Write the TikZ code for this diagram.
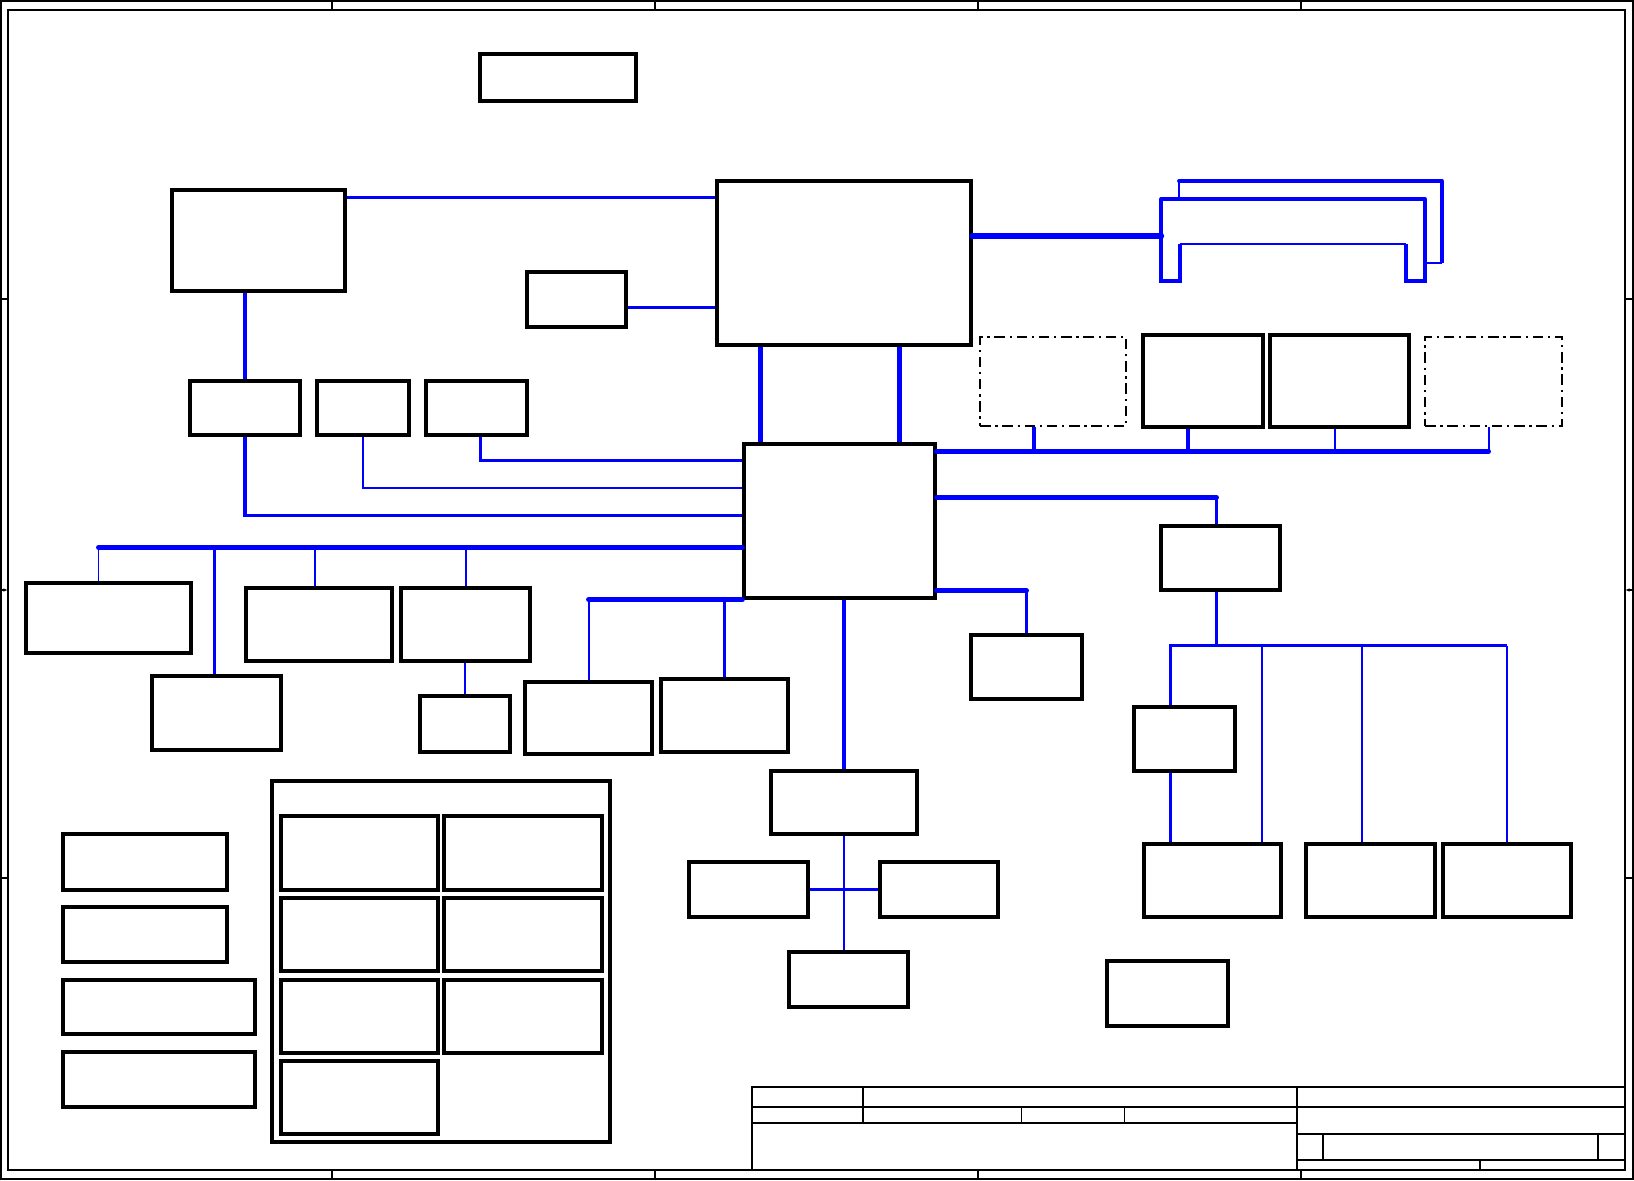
\documentclass[tikz,border=0pt]{standalone}
\usepackage{tikz}
\usetikzlibrary{arrows.meta,positioning,calc,fit}
\definecolor{busblue}{RGB}{0,0,255}

\begin{document}
\begin{tikzpicture}[x=0.3mm,y=-0.3mm,
  blk/.style={draw,line width=2.7pt,inner sep=0pt},
  opt/.style={draw,line width=1pt,inner sep=0pt,dash pattern=on 9pt off 4pt on 2pt off 4pt},
  frm/.style={line width=0.9pt},
  busS/.style={busblue,line width=1.7pt},
  busM/.style={busblue,line width=2.6pt},
  busL/.style={busblue,line width=4.2pt,line cap=round},
  busXL/.style={busblue,line width=5.5pt,line cap=round}]
  \useasboundingbox (0,0) rectangle (1634,1180);
  % sheet frame and zones
  \draw[frm] (1,1) rectangle (1633,1179);
  \draw[frm] (8,10) rectangle (1625,1170);
  \foreach \x in {332,655,978,1301} {\draw[frm] (\x,1) -- (\x,10); \draw[frm] (\x,1170) -- (\x,1179);}
  \foreach \y in {299,878} {\draw[frm] (1,\y) -- (8,\y); \draw[frm] (1625,\y) -- (1633,\y);}
  \draw[frm,-{Latex[length=4pt,width=3pt]}] (1,590) -- (8,590);
  \draw[frm,-{Latex[length=4pt,width=3pt]}] (1633,590) -- (1625,590);
  % title block
  \draw[frm] (752,1170) |- (1625,1087);
  \draw[frm] (752,1107) -- (1625,1107) (752,1123) -- (1297,1123);
  \draw[frm] (1297,1087) -- (1297,1170) (863,1087) -- (863,1123);
  \draw[thin] (1021,1107) -- (1021,1123) (1124,1107) -- (1124,1123);
  \draw[frm] (1297,1134) -- (1625,1134) (1297,1160) -- (1625,1160);
  \draw[frm] (1323,1134) -- (1323,1160) (1598,1134) -- (1598,1160) (1480,1160) -- (1480,1170);

  % blocks
  \node[blk,fit={(480,54) (636,101)}] (hdr) {};
  \node[blk,fit={(172,190) (345,291)}] (cpu) {};
  \node[blk,fit={(527,272) (626,327)}] (vga) {};
  \node[blk,fit={(717,181) (971,345)}] (nb) {};
  \node[blk,fit={(744,444) (935,598)}] (sb) {};
  \node[blk,fit={(190,381) (300,435)}] (ua) {};
  \node[blk,fit={(317,381) (409,435)}] (ub) {};
  \node[blk,fit={(426,381) (527,435)}] (uc) {};
  \node[blk,fit={(26,583) (191,653)}] (pa) {};
  \node[blk,fit={(152,676) (281,750)}] (pb) {};
  \node[blk,fit={(246,588) (392,661)}] (pc) {};
  \node[blk,fit={(401,588) (530,661)}] (pd) {};
  \node[blk,fit={(420,696) (510,752)}] (pe) {};
  \node[blk,fit={(525,682) (652,754)}] (ga) {};
  \node[blk,fit={(661,679) (788,752)}] (gb) {};
  \node[blk,fit={(771,771) (917,834)}] (hub) {};
  \node[blk,fit={(689,862) (808,917)}] (ha) {};
  \node[blk,fit={(880,862) (998,917)}] (hb) {};
  \node[blk,fit={(789,952) (908,1007)}] (hc) {};
  \node[blk,fit={(1107,961) (1228,1026)}] (misc) {};
  \node[opt,fit={(980,337) (1126,426)}] (opA) {};
  \node[blk,fit={(1143,335) (1263,427)}] (ea) {};
  \node[blk,fit={(1270,335) (1409,427)}] (eb) {};
  \node[opt,fit={(1425,337) (1562,426)}] (opB) {};
  \node[blk,fit={(1161,526) (1280,590)}] (bri) {};
  \node[blk,fit={(1134,707) (1235,771)}] (lx) {};
  \node[blk,fit={(1144,844) (1281,917)}] (ma) {};
  \node[blk,fit={(1306,844) (1435,917)}] (mb) {};
  \node[blk,fit={(1443,844) (1571,917)}] (mc) {};
  \node[blk,fit={(971,635) (1082,699)}] (pw) {};
  \foreach \n/\t/\b/\w in {qa/834/890/227,qb/907/962/227,qc/980/1034/255,qd/1052/1107/255}
    \node[blk,fit={(63,\t) (\w,\b)}] (\n) {};
  \node[blk,fit={(272,781) (610,1142)}] (rr) {};
  \foreach \r/\t/\b in {1/816/890,2/898/971,3/980/1053} {
    \node[blk,fit={(281,\t) (438,\b)}] (r\r a) {};
    \node[blk,fit={(444,\t) (602,\b)}] (r\r b) {};
  }
  \node[blk,fit={(281,1061) (438,1134)}] (r4a) {};

  % north bridge links
  \draw[busM] (cpu.north east) ++(0,9) coordinate (t1) -- (t1 -| nb.west);
  \draw[busM] (vga.east) ++(0,8) coordinate (t2) -- (t2 -| nb.west);
  \draw[busM] (ua.north) -- (ua.north |- cpu.south);
  \draw[busblue,line width=3.6pt] (sb.north west) ++(18,0) coordinate (v1) -- (v1 |- nb.south);
  \draw[busblue,line width=3.6pt] (sb.north east) ++(-37,0) coordinate (v2) -- (v2 |- nb.south);
  % memory slots
  \coordinate (dimm) at (1161,236);
  \draw[busXL] (dimm -| nb.east) -- (dimm);
  \draw[busS] (1179,199) -- (1179,181);
  \draw[busblue,line width=3.2pt,line cap=round] (1179,181) -- (1442,181);
  \draw[busM] (1442,181) -- (1442,263);
  \draw[busS] (1442,263) -- (1425,263);
  \draw[busblue,line width=3.2pt,line cap=round] (1161,199) -- (1425,199);
  \draw[busM] (1425,199) -- (1425,281) -- (1406,281) -- (1406,244);
  \draw[busS] (1406,244) -- (1180,244);
  \draw[busM] (1180,244) -- (1180,281) -- (1161,281) -- (1161,199);

  % south bridge, west side
  \path (sb.north west) ++(0,18) coordinate (w1) ++(0,28) coordinate (w2) ++(0,27) coordinate (w3) ++(0,32) coordinate (w4);
  \draw[busM] (uc.south) ++(4,0) |- (w1);
  \draw[busS] (ub.south) |- (w2);
  \draw[busM] (ua.south) |- (w3);
  \path (pa.north) ++(-10,0) coordinate (k1);
  \draw[busL] (w4) -- (w4 -| k1);
  \draw[busS] (k1) -- (k1 |- w4);
  \draw[busM] (pb.north) ++(-2,0) coordinate (k2) -- (k2 |- w4);
  \draw[busS] (pc.north) ++(-4,0) coordinate (k3) -- (k3 |- w4);
  \draw[busS] (pd.north) -- (pd.north |- w4);
  \draw[busS] (pe.north) -- (pe.north |- pd.south);
  % south bridge, south side
  \draw[busL] (sb.south west) -- (sb.south west -| ga.north);
  \draw[busS] (ga.north) -- (ga.north |- sb.south);
  \draw[busM] (gb.north) -- (gb.north |- sb.south);
  \draw[busblue,line width=4.2pt] (hub.north) -- (hub.north |- sb.south);
  \draw[busS] (hub.south) -- (hub.south |- hc.north);
  \draw[busM] (ha.east) -- (hb.west);
  % south bridge, east side
  \path (sb.north east) ++(0,9) coordinate (e1) ++(0,46) coordinate (e2);
  \path (sb.south east) ++(0,-9) coordinate (e3);
  \path (opB.south) ++(-5,0) coordinate (k5);
  \draw[busL] (e1) -- (e1 -| k5);
  \draw[busM] (opA.south) ++(-19,0) coordinate (k6) -- (k6 |- e1);
  \draw[busM] (ea.south) ++(-15,0) coordinate (k7) -- (k7 |- e1);
  \draw[busS] (eb.south) ++(-5,0) coordinate (k8) -- (k8 |- e1);
  \draw[busS] (k5) -- (k5 |- e1);
  \path (bri.north) ++(-4,0) coordinate (k9);
  \draw[busL] (e2) -- (e2 -| k9);
  \draw[busM] (k9) -- (k9 |- e2);
  \draw[busM] (bri.south) ++(-4,0) -- ++(0,54) coordinate (hb0);
  \path (lx.north) ++(-14,0) coordinate (k11);
  \draw[busM] (k11) -- (k11 |- hb0) -- (mc.north |- hb0);
  \draw[busS] (mc.north) -- (mc.north |- hb0);
  \draw[busS] (ma.north) ++(49,0) coordinate (k12) -- (k12 |- hb0);
  \draw[busS] (mb.north) ++(-9,0) coordinate (k13) -- (k13 |- hb0);
  \draw[busM] (lx.south) ++(-14,0) coordinate (k14) -- (k14 |- ma.north);
  \draw[busL] (e3) -- (e3 -| pw.north);
  \draw[busM] (pw.north) -- (pw.north |- e3);
\end{tikzpicture}
\end{document}
